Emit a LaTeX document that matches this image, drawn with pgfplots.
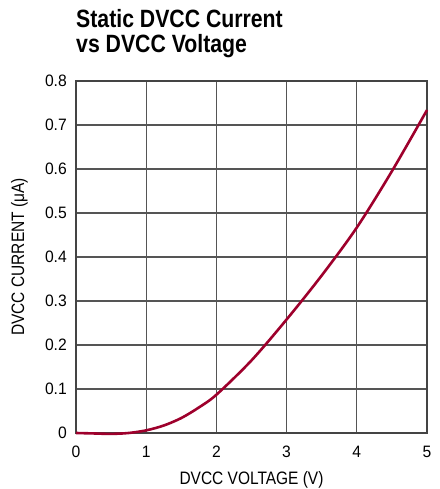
\documentclass[border=0pt]{standalone}
\usepackage{pgfplots}
\pgfplotsset{compat=1.18}
\usepackage{fontspec}
\setmainfont[FakeStretch=0.86]{Liberation Sans}
\newfontfamily\titlefont[FakeStretch=0.85]{Liberation Sans}
\newfontfamily\tickfont[FakeStretch=0.95]{Liberation Sans}
\definecolor{curve}{RGB}{158,0,44}
\definecolor{gridc}{RGB}{85,85,85}

\begin{document}
\begin{tikzpicture}
\begin{axis}[
    name=main,
    scale only axis,
    width=351pt, height=352pt,
    xmin=0, xmax=5, ymin=0, ymax=0.8,
    xtick={0,1,2,3,4,5},
    ytick={0,0.1,0.2,0.3,0.4,0.5,0.6,0.7,0.8},
    yticklabels={0,0.1,0.2,0.3,0.4,0.5,0.6,0.7,0.8},
    grid=major,
    major grid style={gridc, line width=1.2pt},
    axis line style={gridc!80!black, line width=1.3pt},
    tick style={draw=none},
    /pgf/number format/assume math mode=true,
    tick label style={font=\tickfont\fontsize{16.5}{18}\selectfont},
    yticklabel style={inner sep=0pt, xshift=-9pt},
    xticklabel style={inner sep=0pt, yshift=-13pt},
    xlabel={DVCC VOLTAGE (V)},
    ylabel={DVCC CURRENT (μA)},
    label style={font=\fontsize{18}{20}\selectfont},
    xlabel style={at={(axis description cs:0.5,0)}, yshift=-51pt, anchor=base, inner sep=0pt},
    ylabel style={at={(axis description cs:-0.148,0.5)}, anchor=base, inner sep=0pt},
    clip=false,
]
\addplot[curve, line width=2.6pt, smooth] coordinates {
    (0,0) (0.25,-0.001) (0.5,-0.002) (0.75,0.000) (1,0.006)
    (1.25,0.017) (1.5,0.034) (1.75,0.058) (2,0.087) (2.5,0.165)
    (3,0.258) (3.5,0.358) (4,0.467) (4.5,0.595) (5,0.734)
};
\node[anchor=base west, inner sep=0pt, font=\titlefont\bfseries\fontsize{25}{27}\selectfont]
      at (rel axis cs:0,1) [yshift=53pt] {Static DVCC Current};
\node[anchor=base west, inner sep=0pt, font=\titlefont\bfseries\fontsize{25}{27}\selectfont]
      at (rel axis cs:0,1) [yshift=28pt] {vs DVCC Voltage};
\end{axis}
\useasboundingbox ([xshift=-76pt,yshift=-56pt]main.south west) rectangle ([xshift=12pt,yshift=81pt]main.north east);
\end{tikzpicture}
\end{document}
